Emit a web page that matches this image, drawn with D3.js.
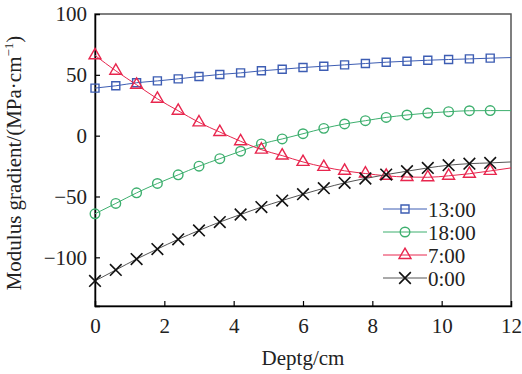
<!DOCTYPE html>
<html>
<head>
<meta charset="utf-8">
<script src="https://cdn.jsdelivr.net/npm/d3@7"></script>
<style>
  body { margin: 0; background: #fff; }
</style>
</head>
<body>
<svg id="chart" width="522" height="374"></svg>
<script>
// depth values (cm); last point only carries the line to the edge
const depth = [0, 0.6, 1.2, 1.8, 2.4, 3.0, 3.6, 4.2, 4.8, 5.4, 6.0, 6.6, 7.2, 7.8, 8.4, 9.0, 9.6, 10.2, 10.8, 11.4, 12];

const s1300 = [39.1, 41, 43.5, 45, 46.7, 48.6, 50.3, 51.6, 53.3, 54.6, 56, 57.1, 58.2, 59.3, 60.4, 61.2, 62, 62.6, 63.1, 63.7, 64.2];
const s1800 = [-64.2, -55.7, -47, -39.3, -32.2, -25.1, -18.9, -12.8, -6.8, -2.7, 1.6, 6, 9.6, 12.3, 15, 17, 18.6, 19.7, 20.5, 20.6, 20.6];
const s700 = [66, 53.3, 41.8, 30.3, 20.5, 10.9, 3, -4.6, -11.5, -16.4, -21.6, -25.7, -28.9, -31.1, -33, -34, -34.2, -33, -31.3, -29, -26.5];
const s000 = [-119.4, -110.4, -101.4, -93.2, -85.2, -77.9, -71, -64.8, -58.7, -53.3, -48.1, -43.2, -38.8, -35.2, -32, -29.2, -26.5, -24.3, -23, -22.4, -21.6];

const xTicks = [0, 2, 4, 6, 8, 10, 12];
const yTicks = [-100, -50, 0, 50, 100];

const FONT = '"Liberation Serif", "Times New Roman", serif';

const series = [
  { name: '13:00', values: s1300, color: '#3d5db3', line: '#3d5db3', marker: 'square' },
  { name: '18:00', values: s1800, color: '#3daf6e', line: '#3daf6e', marker: 'circle' },
  { name: '7:00', values: s700, color: '#e8264e', line: '#e8264e', marker: 'triangle' },
  { name: '0:00', values: s000, color: '#111', line: '#555', marker: 'cross' }
];

const svg = d3.select('#chart').attr('font-family', FONT);
const margin = { top: 14, right: 11, bottom: 68, left: 95 };
const width = 522 - margin.left - margin.right;
const height = 374 - margin.top - margin.bottom;

const x = d3.scaleLinear().domain([0, 12]).range([0, width]);
const y = d3.scaleLinear().domain([-140, 100]).range([height, 0]);

const g = svg.append('g')
  .attr('transform', `translate(${margin.left},${margin.top})`);

// frame
g.append('rect')
  .attr('width', width).attr('height', height)
  .attr('fill', 'none').attr('stroke', '#555').attr('stroke-width', 1.5);

const xAxis = g.append('g')
  .attr('transform', `translate(0,${height})`)
  .call(d3.axisBottom(x).tickValues(xTicks).tickSize(-5).tickPadding(12).tickFormat(d3.format('d')));
const yAxis = g.append('g')
  .call(d3.axisLeft(y).tickValues(yTicks).tickSize(-5).tickPadding(8).tickFormat(d => d < 0 ? '\u2212' + Math.abs(d) : d));

[xAxis, yAxis].forEach(a => {
  a.attr('font-family', FONT).attr('font-size', 21);
  a.select('.domain').attr('stroke', '#000').attr('stroke-width', 1.5);
  a.selectAll('.tick line').attr('stroke', '#000').attr('stroke-width', 1.2);
  a.selectAll('.tick text').attr('fill', '#222');
});
xAxis.selectAll('.tick').filter(d => d === 0 || d === 12).select('line').remove();
yAxis.selectAll('.tick').filter(d => d === 100).select('line').remove();

g.append('text')
  .attr('x', width / 2).attr('y', height + 59)
  .attr('text-anchor', 'middle').attr('fill', '#222')
  .attr('font-size', 21).text('Deptg/cm');

const yt = g.append('text')
  .attr('transform', `translate(${-74},${height / 2 + 3}) rotate(-90)`)
  .attr('text-anchor', 'middle').attr('fill', '#222')
  .attr('font-size', 21);
yt.append('tspan').text('Modulus gradient/(MPa\u00b7cm');
yt.append('tspan').attr('dy', -8).attr('font-size', 13).text('\u22121');
yt.append('tspan').attr('dy', 8).text(')');

const line = d3.line().x((d, i) => x(depth[i])).y(d => y(d)).curve(d3.curveMonotoneX);

const symbols = {
  square: d3.symbol().type(d3.symbolSquare).size(64),
  circle: d3.symbol().type(d3.symbolCircle).size(72),
  triangle: d3.symbol().type(d3.symbolTriangle).size(62),
  cross: d3.symbol().type(d3.symbolTimes).size(90)
};

function drawMarker(sel, s) {
  return sel.append('path')
    .attr('d', symbols[s.marker]())
    .attr('fill', 'none')
    .attr('stroke', s.color)
    .attr('stroke-width', s.marker === 'cross' ? 1.6 : 1.4);
}

series.forEach(s => {
  g.append('path')
    .datum(s.values)
    .attr('fill', 'none')
    .attr('stroke', s.line)
    .attr('stroke-width', 1)
    .attr('d', line);

  s.values.forEach((v, i) => {
    if (depth[i] >= 12) return;
    const mg = g.append('g').attr('transform', `translate(${x(depth[i])},${y(v)})`);
    drawMarker(mg, s);
  });
});

// legend
const legend = g.append('g').attr('transform', `translate(${288},${195})`);
series.forEach((s, i) => {
  const row = legend.append('g').attr('transform', `translate(0,${i * 23})`);
  row.append('line').attr('x1', 0).attr('x2', 44).attr('stroke', s.line).attr('stroke-width', 1);
  drawMarker(row.append('g').attr('transform', 'translate(22,0)'), s);
  row.append('text').attr('x', 45).attr('y', 7.5).attr('fill', '#222')
    .attr('font-size', 21).text(s.name);
});
</script>
</body>
</html>
